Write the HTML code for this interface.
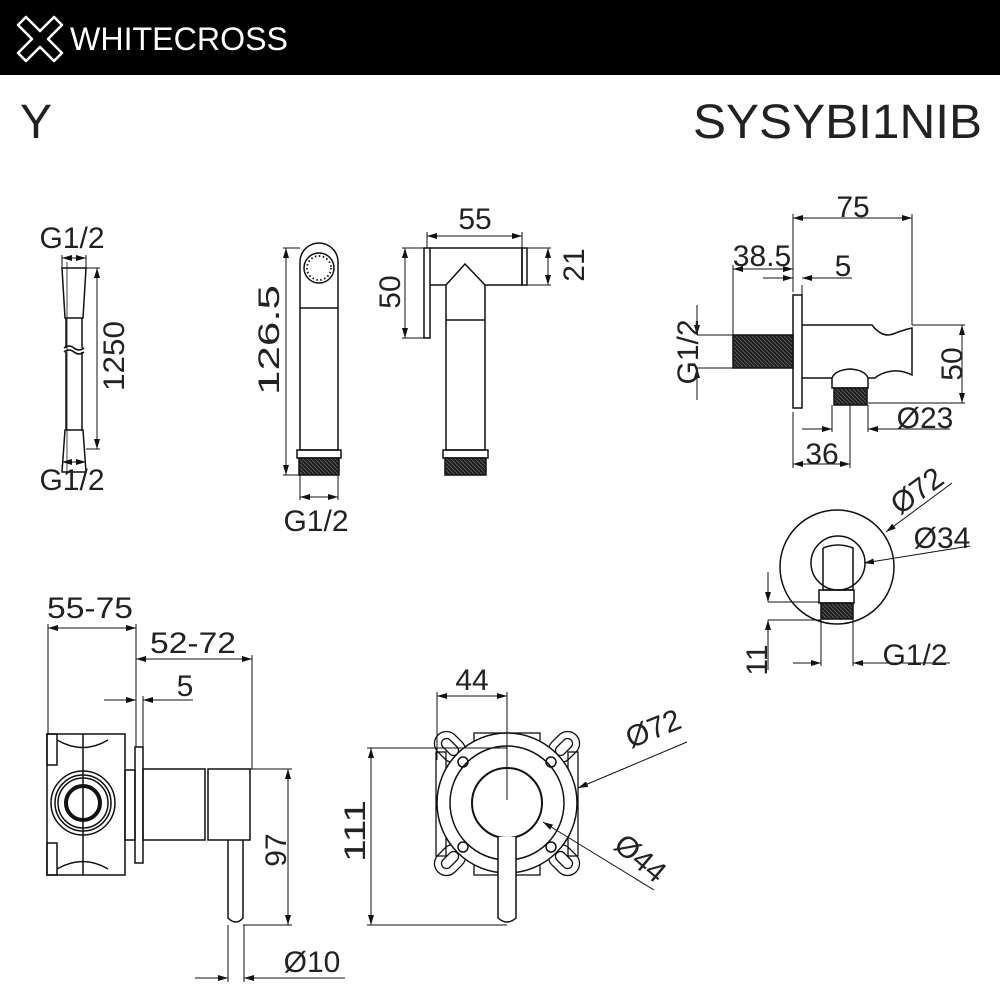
<!DOCTYPE html>
<html><head><meta charset="utf-8"><style>
html,body{margin:0;padding:0;background:#fff}
svg{display:block}
text{font-family:"Liberation Sans",sans-serif;fill:#222}
</style></head><body>
<svg width="1000" height="1000" viewBox="0 0 1000 1000" xmlns="http://www.w3.org/2000/svg">
<defs>
<marker id="a" viewBox="0 0 10 6" refX="10" refY="3" markerWidth="10" markerHeight="6" orient="auto-start-reverse" markerUnits="userSpaceOnUse"><path d="M0,0 L10,3 L0,6z" fill="#111"/></marker>
<pattern id="th" width="4" height="4" patternUnits="userSpaceOnUse"><rect width="4" height="4" fill="#222"/><line x1="0" y1="0" x2="4" y2="4" stroke="#777" stroke-width="0.6"/></pattern>
</defs>
<rect x="0" y="0" width="1000" height="75" fill="#000"/>
<g fill="none" stroke="#fff" stroke-width="2.6" stroke-linejoin="round">
<path d="M26,17 L40,31 L54,17 L62,25 L48,39 L62,53 L54,61 L40,47 L26,61 L18,53 L32,39 L18,25 Z"/>
</g>
<text x="70" y="50" font-size="32" textLength="218" lengthAdjust="spacingAndGlyphs" style="fill:#fff">WHITECROSS</text>
<text x="20" y="138" font-size="48">Y</text>
<text x="982" y="138" font-size="48" text-anchor="end" textLength="289" lengthAdjust="spacingAndGlyphs">SYSYBI1NIB</text>

<g fill="none" stroke="#111" stroke-width="1.5">
<path d="M62,268 L86,268 L83,318 L65,318 Z"/>
<line x1="66" y1="318" x2="66" y2="348"/><line x1="82" y1="318" x2="82" y2="348"/>
<path d="M64,348 q5,-4 10,0 t10,0"/><path d="M64,352 q5,-4 10,0 t10,0"/>
<line x1="66" y1="352" x2="66" y2="430"/><line x1="82" y1="352" x2="82" y2="430"/>
<path d="M65,430 L83,430 L86,472 L62,472 Z"/>
<path d="M300,450 L300,262 A19,19 0 0 1 338,262 L338,450 Z"/>
<circle cx="319" cy="268" r="15"/><circle cx="319" cy="268" r="12" stroke-dasharray="1.5 2.5" stroke-width="1.8"/>
<line x1="300" y1="308" x2="338" y2="308"/>
<rect x="297" y="450" width="44" height="8"/>
<rect x="299" y="458" width="40" height="17" fill="url(#th)"/>
<rect x="424" y="248" width="6" height="90"/>
<path d="M430,248 L522,248 L522,285 L485,285 L465,264 L446,285 L430,285"/>
<rect x="522" y="248" width="5" height="37"/>
<path d="M446,285 L446,450 L485,450 L485,285"/>
<line x1="446" y1="320" x2="485" y2="320"/>
<rect x="443" y="450" width="45" height="8"/>
<rect x="445" y="458" width="41" height="17" fill="url(#th)"/>
<rect x="793" y="295" width="9" height="113"/>
<rect x="733" y="335" width="60" height="33" fill="url(#th)"/>
<path d="M802,325 L872,325 Q882,338 893,334 Q903,330 912,328 L912,375 Q902,370 893,371 Q882,372 875,378 L868,378"/>
<path d="M802,378 L832,378 Q835,370 850,369 Q865,370 868,378 L868,388 L832,388 L832,378"/>
<rect x="834" y="388" width="33" height="17" fill="url(#th)"/>
<circle cx="837" cy="567" r="57"/>
<circle cx="838" cy="563" r="27"/>
<path d="M823,548 L823,590 L853,590 L853,548 Q838,542 823,548"/>
<path d="M819,590 L854,590 L854,603 L819,603 Z"/>
<rect x="821" y="603" width="32" height="16" fill="url(#th)"/>
<rect x="47" y="734" width="78" height="141"/>
<rect x="47" y="734" width="10" height="31"/><rect x="47" y="843" width="10" height="32"/>
<line x1="83" y1="734" x2="83" y2="875"/>
<path d="M57,740 Q83,755 108,740"/><path d="M57,869 Q83,854 108,869"/>
<circle cx="83" cy="803" r="32"/><circle cx="83" cy="803" r="28"/><circle cx="83" cy="803" r="25"/>
<circle cx="83" cy="803" r="17" stroke-width="4"/>
<rect x="125" y="770" width="10" height="70"/>
<rect x="135" y="747" width="8" height="116"/>
<rect x="143" y="769" width="62" height="71"/>
<rect x="208" y="769" width="42" height="71"/>
<path d="M228,840 L228,918 Q236,926 243,918 L243,840"/>
<g stroke-width="1.3">
<rect x="436" y="752" width="10" height="104"/><rect x="568" y="752" width="10" height="104"/>
<rect x="474" y="733" width="66" height="10"/><rect x="474" y="865" width="66" height="10"/>
<g transform="rotate(45 450 747)"><rect x="433" y="735" width="34" height="24" rx="12"/><rect x="440" y="742" width="20" height="10" rx="5"/></g>
<g transform="rotate(-45 564 747)"><rect x="547" y="735" width="34" height="24" rx="12"/><rect x="554" y="742" width="20" height="10" rx="5"/></g>
<g transform="rotate(-45 450 860)"><rect x="433" y="848" width="34" height="24" rx="12"/><rect x="440" y="855" width="20" height="10" rx="5"/></g>
<g transform="rotate(45 564 860)"><rect x="547" y="848" width="34" height="24" rx="12"/><rect x="554" y="855" width="20" height="10" rx="5"/></g>
</g>
<circle cx="507" cy="803" r="70" fill="#fff"/>
<circle cx="507" cy="803" r="57"/>
<circle cx="463" cy="762" r="5"/><circle cx="551" cy="762" r="5"/><circle cx="463" cy="847" r="5"/><circle cx="551" cy="847" r="5"/>
<circle cx="507" cy="803" r="35" stroke-width="2"/>
<path d="M498,837 L498,918 Q507,926 516,918 L516,837" fill="#fff"/>
</g>

<g fill="none" stroke="#111" stroke-width="1">
<line x1="67" y1="262" x2="67" y2="472" stroke-width="0.8"/>
<line x1="62" y1="255" x2="62" y2="268"/><line x1="86" y1="255" x2="86" y2="268"/>
<line x1="62" y1="258" x2="86" y2="258" marker-start="url(#a)" marker-end="url(#a)"/>
<line x1="62" y1="472" x2="62" y2="465"/><line x1="62" y1="462" x2="86" y2="462" marker-start="url(#a)" marker-end="url(#a)"/>
<line x1="86" y1="268" x2="100" y2="268"/><line x1="86" y1="449" x2="100" y2="449"/>
<line x1="97" y1="268" x2="97" y2="449" marker-start="url(#a)" marker-end="url(#a)"/>
<line x1="283" y1="248" x2="300" y2="248"/><line x1="283" y1="475" x2="300" y2="475"/>
<line x1="286" y1="248" x2="286" y2="475" marker-start="url(#a)" marker-end="url(#a)"/>
<line x1="300" y1="475" x2="300" y2="500"/><line x1="338" y1="475" x2="338" y2="500"/>
<line x1="300" y1="497" x2="338" y2="497" marker-start="url(#a)" marker-end="url(#a)"/>
<line x1="427" y1="232" x2="427" y2="248"/><line x1="522" y1="232" x2="522" y2="248"/>
<line x1="427" y1="236" x2="522" y2="236" marker-start="url(#a)" marker-end="url(#a)"/>
<line x1="402" y1="248" x2="424" y2="248"/><line x1="402" y1="338" x2="424" y2="338"/>
<line x1="405" y1="248" x2="405" y2="338" marker-start="url(#a)" marker-end="url(#a)"/>
<line x1="527" y1="248" x2="551" y2="248"/><line x1="527" y1="285" x2="551" y2="285"/>
<line x1="548" y1="248" x2="548" y2="285" marker-start="url(#a)" marker-end="url(#a)"/>
<line x1="793" y1="214" x2="793" y2="292"/><line x1="912" y1="214" x2="912" y2="325"/>
<line x1="793" y1="218" x2="912" y2="218" marker-start="url(#a)" marker-end="url(#a)"/>
<line x1="733" y1="265" x2="733" y2="335"/>
<line x1="733" y1="269" x2="793" y2="269" marker-start="url(#a)" marker-end="url(#a)"/>
<line x1="802" y1="285" x2="802" y2="295"/>
<line x1="763" y1="278" x2="793" y2="278" marker-end="url(#a)"/>
<line x1="852" y1="278" x2="802" y2="278" marker-end="url(#a)"/>
<line x1="912" y1="325" x2="965" y2="325"/><line x1="868" y1="403" x2="965" y2="403"/>
<line x1="962" y1="325" x2="962" y2="403" marker-start="url(#a)" marker-end="url(#a)"/>
<line x1="868" y1="405" x2="868" y2="432"/><line x1="832" y1="405" x2="832" y2="432"/>
<line x1="802" y1="429" x2="832" y2="429" marker-end="url(#a)"/>
<line x1="950" y1="429" x2="868" y2="429" marker-end="url(#a)"/>
<line x1="793" y1="412" x2="793" y2="468"/><line x1="850" y1="405" x2="850" y2="468"/>
<line x1="793" y1="464" x2="850" y2="464" marker-start="url(#a)" marker-end="url(#a)"/>
<line x1="697" y1="335" x2="733" y2="335"/><line x1="697" y1="368" x2="733" y2="368"/>
<line x1="697" y1="305" x2="697" y2="335" marker-end="url(#a)"/>
<line x1="697" y1="400" x2="697" y2="368" marker-end="url(#a)"/>
<line x1="952" y1="483" x2="886" y2="532" marker-end="url(#a)"/>
<line x1="970" y1="546" x2="864" y2="563" marker-end="url(#a)"/>
<line x1="768" y1="572" x2="768" y2="602" marker-end="url(#a)"/>
<line x1="768" y1="602" x2="820" y2="602"/>
<line x1="768" y1="620" x2="821" y2="620"/>
<line x1="768" y1="670" x2="768" y2="620" marker-end="url(#a)"/>
<line x1="821" y1="619" x2="821" y2="666"/><line x1="853" y1="619" x2="853" y2="666"/>
<line x1="793" y1="663" x2="821" y2="663" marker-end="url(#a)"/>
<line x1="950" y1="663" x2="853" y2="663" marker-end="url(#a)"/>
<line x1="48" y1="624" x2="48" y2="734"/><line x1="136" y1="624" x2="136" y2="747"/>
<line x1="48" y1="628" x2="136" y2="628" marker-start="url(#a)" marker-end="url(#a)"/>
<line x1="252" y1="655" x2="252" y2="769"/>
<line x1="136" y1="659" x2="252" y2="659" marker-start="url(#a)" marker-end="url(#a)"/>
<line x1="143" y1="696" x2="143" y2="747"/>
<line x1="104" y1="700" x2="136" y2="700" marker-end="url(#a)"/>
<line x1="193" y1="700" x2="143" y2="700" marker-end="url(#a)"/>
<line x1="250" y1="769" x2="292" y2="769"/><line x1="243" y1="925" x2="292" y2="925"/>
<line x1="288" y1="769" x2="288" y2="925" marker-start="url(#a)" marker-end="url(#a)"/>
<line x1="228" y1="925" x2="228" y2="982"/><line x1="244" y1="925" x2="244" y2="982"/>
<line x1="195" y1="978" x2="228" y2="978" marker-end="url(#a)"/>
<line x1="345" y1="978" x2="244" y2="978" marker-end="url(#a)"/>
<line x1="367" y1="748" x2="507" y2="748"/><line x1="367" y1="925" x2="507" y2="925"/>
<line x1="371" y1="748" x2="371" y2="925" marker-start="url(#a)" marker-end="url(#a)"/>
<line x1="437" y1="692" x2="437" y2="760"/><line x1="507" y1="692" x2="507" y2="800"/>
<line x1="437" y1="696" x2="507" y2="696" marker-start="url(#a)" marker-end="url(#a)"/>
<line x1="687" y1="742" x2="578" y2="788" marker-end="url(#a)"/>
<line x1="654" y1="890" x2="543" y2="822" marker-end="url(#a)"/>
</g>

<g font-size="30">
<text x="72" y="248" text-anchor="middle">G1/2</text>
<text x="72" y="490" text-anchor="middle">G1/2</text>
<text transform="translate(124,356) rotate(-90)" text-anchor="middle" textLength="70" lengthAdjust="spacingAndGlyphs">1250</text>
<text transform="translate(279,340) rotate(-90)" text-anchor="middle" textLength="110" lengthAdjust="spacingAndGlyphs">126.5</text>
<text x="316" y="531" text-anchor="middle">G1/2</text>
<text x="475" y="229" text-anchor="middle">55</text>
<text transform="translate(400,292) rotate(-90)" text-anchor="middle">50</text>
<text transform="translate(584,265) rotate(-90)" text-anchor="middle">21</text>
<text x="853" y="217" text-anchor="middle">75</text>
<text x="762" y="266" text-anchor="middle">38.5</text>
<text x="843" y="276" text-anchor="middle">5</text>
<text transform="translate(698,352) rotate(-90)" text-anchor="middle">G1/2</text>
<text transform="translate(962,364) rotate(-90)" text-anchor="middle">50</text>
<text x="925" y="428" text-anchor="middle">Ø23</text>
<text x="822" y="464" text-anchor="middle">36</text>
<text transform="translate(923,499) rotate(-36)" text-anchor="middle">Ø72</text>
<text x="942" y="548" text-anchor="middle">Ø34</text>
<text transform="translate(767,660) rotate(-90)" text-anchor="middle">11</text>
<text x="915" y="665" text-anchor="middle">G1/2</text>
<text x="90" y="618" text-anchor="middle" textLength="86" lengthAdjust="spacingAndGlyphs">55-75</text>
<text x="193" y="653" text-anchor="middle" textLength="86" lengthAdjust="spacingAndGlyphs">52-72</text>
<text x="185" y="696" text-anchor="middle">5</text>
<text transform="translate(286,850) rotate(-90)" text-anchor="middle">97</text>
<text x="312" y="972" text-anchor="middle">Ø10</text>
<text transform="translate(365,831) rotate(-90)" text-anchor="middle" textLength="62" lengthAdjust="spacingAndGlyphs">111</text>
<text x="472" y="690" text-anchor="middle">44</text>
<text transform="translate(657,738) rotate(-22)" text-anchor="middle">Ø72</text>
<text transform="translate(634,866) rotate(40)" text-anchor="middle">Ø44</text>
</g>
</svg>
</body></html>
